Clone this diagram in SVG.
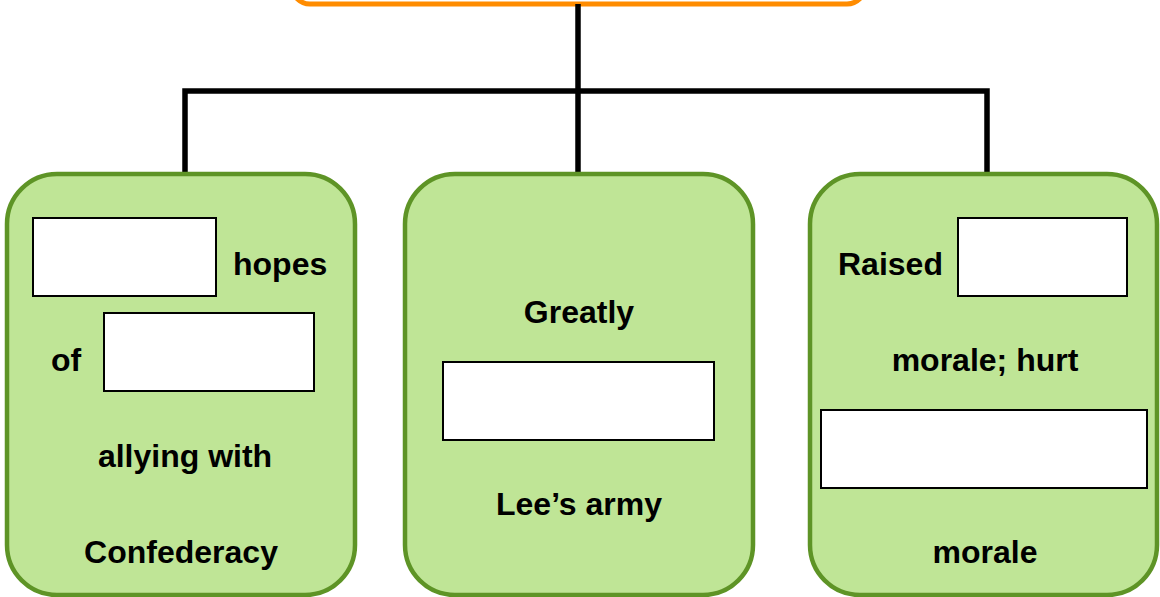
<svg xmlns="http://www.w3.org/2000/svg" width="1160" height="597" viewBox="0 0 1160 597">
<style>
.card{fill:#bfe596;stroke:#5e9426;stroke-width:4.5}
.blank{fill:#ffffff;stroke:#000000;stroke-width:2}
.conn{fill:none;stroke:#000000;stroke-width:5.5}
text{font-family:"Liberation Sans",Arial,sans-serif;font-weight:bold;font-size:32px;fill:#000000}
.c{text-anchor:middle}
</style>
<g id="top">
<rect x="292" y="-60" width="573" height="64" rx="18" fill="#ffffff" stroke="#ff8c00" stroke-width="5"/>
</g>
<g id="connectors">
<path class="conn" d="M578,4 V173"/>
<path class="conn" d="M185,173 V91 H987 V173"/>
</g>
<g id="left">
<rect class="card" x="7" y="174" width="348" height="421" rx="50"/>
<rect class="blank" x="33" y="218" width="183" height="78"/>
<text x="233" y="275">hopes</text>
<text class="c" x="66" y="371">of</text>
<rect class="blank" x="104" y="313" width="210" height="78"/>
<text class="c" x="185" y="467">allying with</text>
<text class="c" x="181" y="563">Confederacy</text>
</g>
<g id="middle">
<rect class="card" x="405" y="174" width="348" height="421" rx="50"/>
<text class="c" x="579" y="323">Greatly</text>
<rect class="blank" x="443" y="362" width="271" height="78"/>
<text class="c" x="579" y="515">Lee’s army</text>
</g>
<g id="right">
<rect class="card" x="810" y="174" width="347" height="421" rx="50"/>
<text x="838" y="275">Raised</text>
<rect class="blank" x="958" y="218" width="169" height="78"/>
<text class="c" x="985" y="371">morale; hurt</text>
<rect class="blank" x="821" y="410" width="326" height="78"/>
<text class="c" x="985" y="563">morale</text>
</g>
</svg>
